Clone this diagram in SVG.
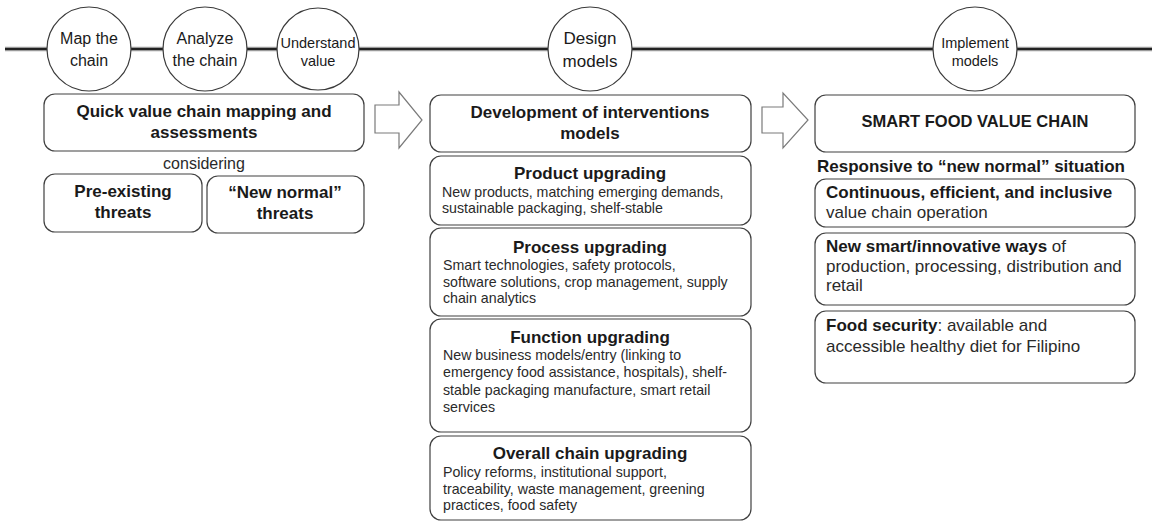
<svg xmlns="http://www.w3.org/2000/svg" width="1152" height="522" viewBox="0 0 1152 522">
  <style>
    text { font-family: "Liberation Sans", Arial, sans-serif; fill: #1a1a1a; }
    .stage { fill: #ffffff; stroke: #3a3a3a; stroke-width: 1.2; }
    .box { fill: #ffffff; stroke: #404040; stroke-width: 1.2; }
    .arrow { fill: #ffffff; stroke: #7a7a7a; stroke-width: 1.2; stroke-linejoin: miter; }
    .c16 { font-size: 16px; text-anchor: middle; }
    .c145 { font-size: 14.5px; text-anchor: middle; }
    .hb { font-size: 17px; font-weight: bold; text-anchor: middle; }
    .body { font-size: 14.2px; fill: #2a2a2a; }
    .rb { font-size: 17px; fill: #2a2a2a; }
    .b { font-weight: bold; fill: #1a1a1a; }
  </style>

  <!-- timeline rail and step arrows -->
  <g id="connectors">
    <line x1="5" y1="49" x2="1152" y2="49" stroke="#9a9a9a" stroke-width="4.6"/>
    <line x1="5" y1="49" x2="1152" y2="49" stroke="#222222" stroke-width="2"/>
    <path class="arrow" d="M375,105 H399 V92 L422,120 L399,148 V133 H375 Z"/>
    <path class="arrow" d="M762,107 H783 V93 L808,120 L783,148 V133 H762 Z"/>
  </g>

  <!-- stage circles -->
  <g id="stage-map">
    <circle class="stage" cx="89" cy="49" r="42"/>
    <text class="c16" x="89" y="44">Map the</text>
    <text class="c16" x="89" y="66">chain</text>
  </g>
  <g id="stage-analyze">
    <circle class="stage" cx="205" cy="49" r="42"/>
    <text class="c16" x="205" y="44">Analyze</text>
    <text class="c16" x="205" y="66">the chain</text>
  </g>
  <g id="stage-understand">
    <circle class="stage" cx="318" cy="49" r="41"/>
    <text class="c145" x="318" y="48">Understand</text>
    <text class="c145" x="318" y="66">value</text>
  </g>
  <g id="stage-design">
    <circle class="stage" cx="590" cy="49" r="42"/>
    <text class="c16" x="590" y="44" style="font-size:17px">Design</text>
    <text class="c16" x="590" y="67" style="font-size:17px">models</text>
  </g>
  <g id="stage-implement">
    <circle class="stage" cx="975" cy="49" r="42"/>
    <text class="c145" x="975" y="48">Implement</text>
    <text class="c145" x="975" y="66">models</text>
  </g>

  <!-- mapping and assessment column -->
  <g id="quick-mapping">
    <rect class="box" x="44" y="94" width="320" height="57" rx="11"/>
    <text class="hb" x="204" y="117">Quick value chain mapping and</text>
    <text class="hb" x="204" y="138">assessments</text>
  </g>
  <g id="considering">
    <text class="c16" x="204" y="169" style="fill:#2a2a2a">considering</text>
  </g>
  <g id="pre-existing">
    <rect class="box" x="44" y="174" width="158" height="58" rx="11"/>
    <text class="hb" x="123" y="197">Pre-existing</text>
    <text class="hb" x="123" y="218">threats</text>
  </g>
  <g id="new-normal">
    <rect class="box" x="207" y="176" width="157" height="57" rx="11"/>
    <text class="hb" x="285" y="198">“New normal”</text>
    <text class="hb" x="285" y="219">threats</text>
  </g>

  <!-- intervention models column -->
  <g id="development">
    <rect class="box" x="430" y="95" width="321" height="57" rx="11"/>
    <text class="hb" x="590" y="118">Development of interventions</text>
    <text class="hb" x="590" y="139">models</text>
  </g>
  <g id="product-upgrading">
    <rect class="box" x="430" y="156" width="321" height="69" rx="11"/>
    <text class="hb" x="590" y="179">Product upgrading</text>
    <text class="body" x="442" y="197">New products, matching emerging demands,</text>
    <text class="body" x="442" y="213">sustainable packaging, shelf-stable</text>
  </g>
  <g id="process-upgrading">
    <rect class="box" x="430" y="228" width="321" height="88" rx="11"/>
    <text class="hb" x="590" y="253">Process upgrading</text>
    <text class="body" x="443" y="270">Smart technologies, safety protocols,</text>
    <text class="body" x="443" y="287">software solutions, crop management, supply</text>
    <text class="body" x="443" y="303">chain analytics</text>
  </g>
  <g id="function-upgrading">
    <rect class="box" x="430" y="319" width="321" height="113" rx="11"/>
    <text class="hb" x="590" y="343">Function upgrading</text>
    <text class="body" x="443" y="360">New business models/entry (linking to</text>
    <text class="body" x="443" y="377">emergency food assistance, hospitals), shelf-</text>
    <text class="body" x="443" y="395">stable packaging manufacture,  smart retail</text>
    <text class="body" x="443" y="412">services</text>
  </g>
  <g id="overall-upgrading">
    <rect class="box" x="430" y="436" width="321" height="84" rx="11"/>
    <text class="hb" x="590" y="459">Overall chain upgrading</text>
    <text class="body" x="443" y="477">Policy reforms, institutional support,</text>
    <text class="body" x="443" y="494">traceability, waste management, greening</text>
    <text class="body" x="443" y="510">practices, food safety</text>
  </g>

  <!-- smart food value chain column -->
  <g id="smart-chain">
    <rect class="box" x="815" y="95" width="320" height="57" rx="11"/>
    <text class="hb" x="975" y="127" style="font-size:16.5px">SMART FOOD VALUE CHAIN</text>
  </g>
  <g id="responsive">
    <text class="hb" x="971" y="172">Responsive to “new normal” situation</text>
  </g>
  <g id="continuous">
    <rect class="box" x="815" y="179" width="320" height="48" rx="11"/>
    <text class="rb" x="826" y="198"><tspan class="b">Continuous, efficient, and inclusive</tspan></text>
    <text class="rb" x="826" y="218">value chain operation</text>
  </g>
  <g id="new-ways">
    <rect class="box" x="815" y="233" width="320" height="72" rx="11"/>
    <text class="rb" x="826" y="252"><tspan class="b">New smart/innovative ways</tspan> of</text>
    <text class="rb" x="826" y="272">production, processing, distribution and</text>
    <text class="rb" x="826" y="291">retail</text>
  </g>
  <g id="food-security">
    <rect class="box" x="815" y="311" width="320" height="72" rx="11"/>
    <text class="rb" x="826" y="331"><tspan class="b">Food security</tspan>: available and</text>
    <text class="rb" x="826" y="352">accessible healthy diet for Filipino</text>
  </g>
</svg>
